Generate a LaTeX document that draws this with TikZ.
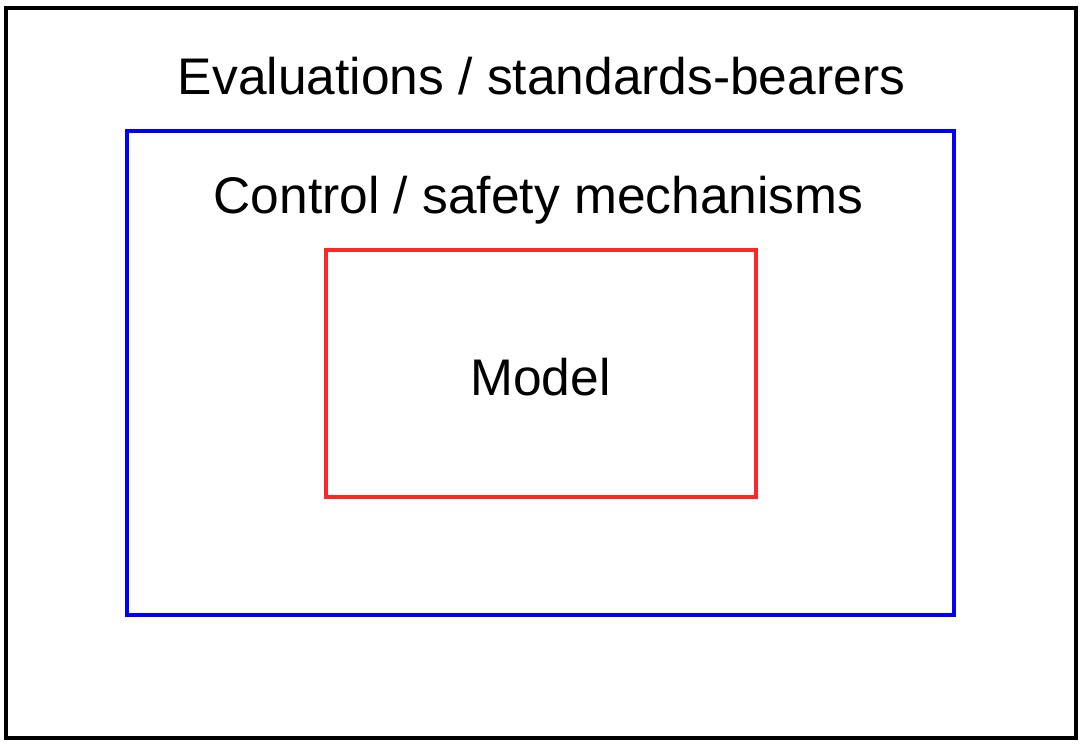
\documentclass[tikz,border=0pt]{standalone}
\usepackage{fontspec}
\setmainfont{Liberation Sans}
\definecolor{boxblue}{RGB}{0,0,255}
\definecolor{boxred}{RGB}{255,38,38}
\begin{document}
\begin{tikzpicture}[x=1pt,y=-1pt,
  frame/.style={draw, line width=4pt, inner sep=0pt, outer sep=0pt},
  lbl/.style={anchor=base, inner sep=0pt, font=\fontsize{51.5}{60}\selectfont}]
\useasboundingbox[fill=white] (0,0) rectangle (1083,744);
\draw[frame, black] (5.7,7.6) rectangle (1076,738);
\draw[frame, boxblue] (127,131.3) rectangle (954,615);
\draw[frame, boxred] (326,250) rectangle (756,496.5);
\node[lbl] (eval) at (541.5,94.3) {Evaluations / standards-bearers};
\node[lbl] (ctrl) at (538.5,213.3) {Control / safety mechanisms};
\node[lbl] (model) at (540.5,395) {Model};
\end{tikzpicture}
\end{document}
